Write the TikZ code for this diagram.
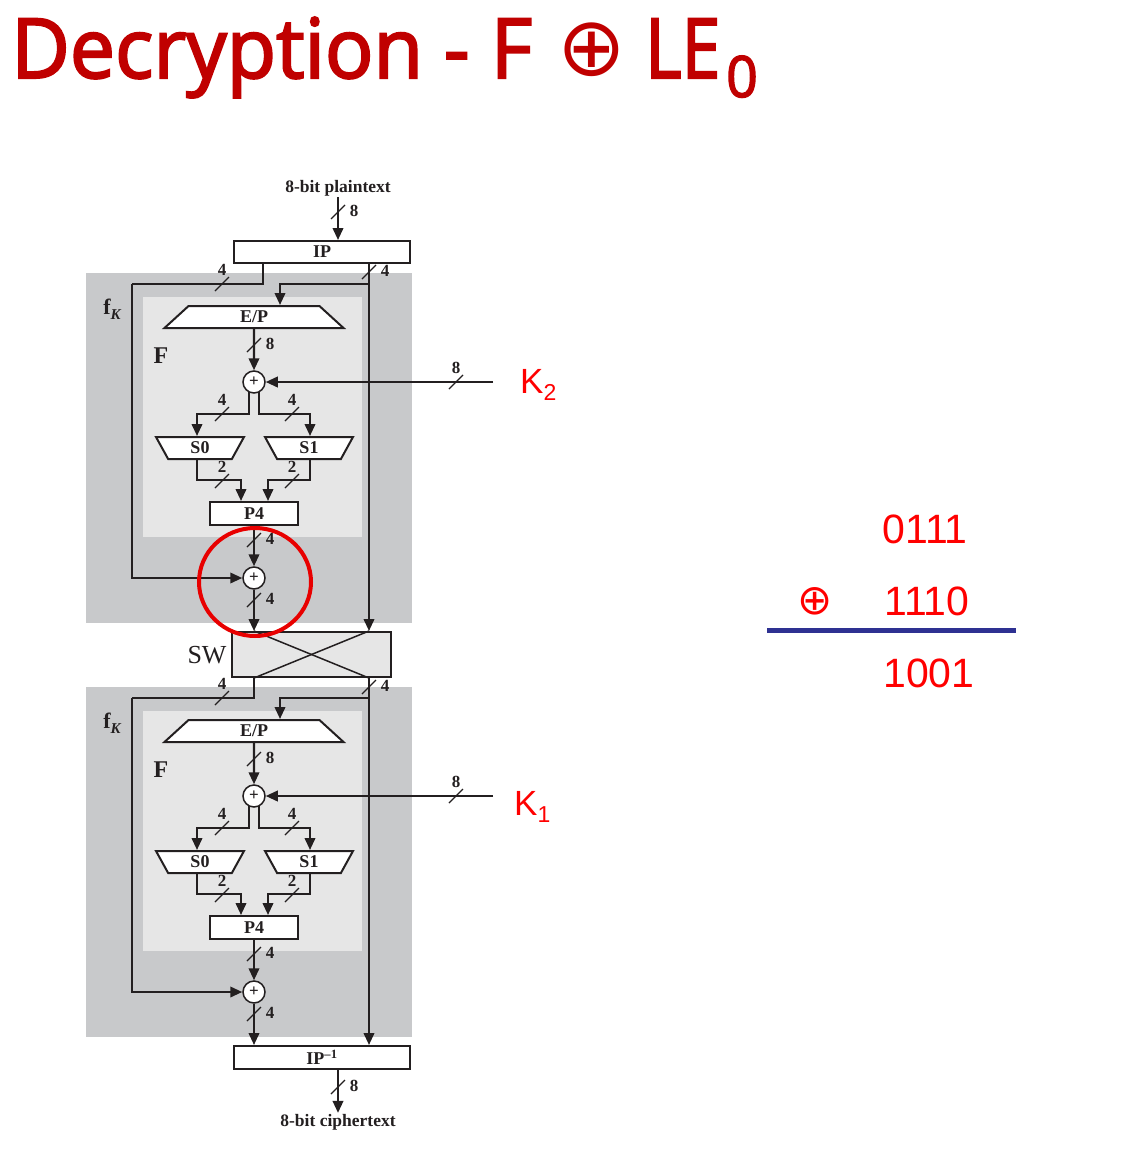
\documentclass[tikz,border=0pt]{standalone}
\usepackage{fontspec}
\setmainfont{Liberation Serif}
\newfontfamily\titlefont[FakeBold=2.5, FakeStretch=0.97]{Open Sans}
\newfontfamily\symfont{DejaVu Sans}
\newfontfamily\arialfont{Liberation Sans}
\usetikzlibrary{arrows.meta,calc,shapes.geometric}

\definecolor{titlered}{RGB}{192,0,0}
\definecolor{keyred}{RGB}{255,0,0}
\definecolor{ringred}{RGB}{232,0,0}
\definecolor{outerg}{RGB}{200,201,203}
\definecolor{innerg}{RGB}{230,230,230}
\definecolor{ink}{RGB}{35,31,32}
\definecolor{navy}{RGB}{46,49,146}

\tikzset{
  wire/.style={draw=ink, line width=2.2pt},
  arr/.style={wire, -{Triangle[length=12pt,width=10.5pt]}},
  buscut/.style={draw=ink, line width=1.2pt},
  num/.style={font=\fontsize{17}{17}\selectfont\bfseries, text=ink, inner sep=0pt},
  boxlbl/.style={font=\fontsize{18}{18}\selectfont\bfseries, text=ink, inner sep=0pt},
  blockbox/.style={draw=ink, line width=2pt, fill=white, inner sep=0pt},
  epbox/.style={blockbox, boxlbl, trapezium, trapezium left angle=26.565, trapezium right angle=26.565,
     trapezium stretches body, minimum width=179pt, minimum height=22pt},
  sbox/.style={blockbox, boxlbl, trapezium, shape border rotate=180, trapezium left angle=45, trapezium right angle=45,
     trapezium stretches body, minimum width=88pt, minimum height=22pt},
  xorop/.style={circle, draw=ink, line width=1.5pt, fill=white, minimum size=22pt, inner sep=0pt,
     font=\fontsize{17}{17}\selectfont\bfseries, text=ink},
  plainlbl/.style={font=\fontsize{17.5}{17.5}\selectfont\bfseries, text=ink, inner sep=1pt},
  fklbl/.style={font=\fontsize{22}{22}\selectfont\bfseries, text=ink, inner sep=0pt},
  flbl/.style={font=\fontsize{24}{24}\selectfont\bfseries, text=ink, inner sep=0pt},
  keylbl/.style={font=\arialfont\fontsize{35}{35}\selectfont, text=keyred, inner sep=0pt, anchor=base west},
  calc/.style={font=\arialfont\fontsize{41}{41}\selectfont, text=keyred, inner sep=0pt, anchor=base},
  titletxt/.style={font=\titlefont\fontsize{83}{83}\selectfont, text=titlered, inner sep=0pt, anchor=base west},
  pics/busv/.style={code={\draw[buscut] (-7,7) -- (7,-7); \node[num] (-n) at (16,-1) {#1};}},
  pics/bush/.style={code={\draw[buscut] (-7,7) -- (7,-7); \node[num] (-n) at (0,-14) {#1};}},
}

\newcommand\fkround[3]{%
\begin{scope}[shift={(0,#1)}]
  \fill[outerg] (86,273) rectangle (412,623);
  \fill[innerg] (143,297) rectangle (362,537);
  \node[fklbl] (fk#2) at (112,309) {f\raisebox{-5pt}{\fontsize{15}{15}\selectfont\itshape K}};
  \node[flbl] (F#2) at (161,356) {F};
  \node[epbox] (ep#2) at (254,317) {E/P};
  \node[xorop] (xa#2) at (254,382) {+};
  \node[sbox] (sa#2) at (200,448) {S0};
  \node[sbox] (sb#2) at (309,448) {S1};
  \node[blockbox, boxlbl, minimum width=88pt, minimum height=23pt] (p4#2) at (254,513.5) {P4};
  \node[xorop] (xb#2) at (254,578) {+};
  \coordinate (lb#2) at (132,284);
  \coordinate (rj#2) at (369,284);
  \coordinate (ca#2) at (197,414);
  \coordinate (cb#2) at (310,414);
  \coordinate (da#2) at (241,480);
  \coordinate (db#2) at (268,480);
  \coordinate (kin#2) at (493,382);
  \draw[arr] (rj#2) -| ([xshift=26pt]ep#2.north);
  \draw[arr] (ep#2.south) -- (xa#2.north);
  \pic (ba#2) at (254,345) {busv=8};
  \draw[arr] (kin#2) -- (xa#2.east);
  \pic (bk#2) at (456,382) {bush=8};
  \draw[arr] (xa#2.243) |- (ca#2) -- (ca#2 |- sa#2.north);
  \draw[arr] (xa#2.297) |- (cb#2) -- (cb#2 |- sb#2.north);
  \pic (bb#2) at (222,414) {bush=4};
  \pic (bc#2) at (292,414) {bush=4};
  \draw[arr] (ca#2 |- sa#2.south) |- (da#2) -- (da#2 |- p4#2.north);
  \draw[arr] (cb#2 |- sb#2.south) |- (db#2) -- (db#2 |- p4#2.north);
  \pic (bd#2) at (222,481) {bush=2};
  \pic (be#2) at (292,481) {bush=2};
  \draw[arr] (p4#2.south) -- (xb#2.north);
  \pic (bf#2) at (254,540) {busv=4};
  \draw[arr] (lb#2) |- (xb#2.west);
\end{scope}}

\begin{document}
\begin{tikzpicture}[x=1pt, y=-1pt]
  \useasboundingbox[fill=white] (0,0) rectangle (1121,1162);

  % title
  \node[titletxt] (t1) at (11,78) {Decryption - F};
  \node[font=\symfont\fontsize{82}{82}\selectfont, text=titlered, inner sep=0pt] (t2) at (592,50) {⊕};
  \node[titletxt] (t3) at (645,78) {\scalebox{0.87}[1]{LE}};
  \node[titletxt, font=\titlefont\fontsize{57}{57}\selectfont] (t4) at (726,97) {0};

  % input
  \node[plainlbl] (pt) at (338,188) {8-bit plaintext};
  \node[blockbox, boxlbl, minimum width=176pt, minimum height=22pt] (ip) at (322,252) {IP};
  \draw[arr] (pt.south) -- (ip.north -| pt);
  \pic (bin) at (338,212) {busv=8};

  % round 1
  \fkround{0}{1}{}
  \node[keylbl] (k2) at (520,393) {K\raisebox{-7pt}{\fontsize{23}{23}\selectfont 2}};

  % switch
  \node[draw=ink, line width=2pt, fill=innerg, minimum width=159pt, minimum height=45pt, inner sep=0pt] (sw) at (311.5,654.5) {};
  \draw[ink, line width=1.5pt] ([xshift=-57.5pt]sw.north) -- ([xshift=57.5pt]sw.south);
  \draw[ink, line width=1.5pt] ([xshift=57.5pt]sw.north) -- ([xshift=-57.5pt]sw.south);
  \node[font=\fontsize{26}{26}\selectfont, text=ink, inner sep=0pt] (swl) at (207,655) {SW};

  \draw[wire] ([xshift=-59pt]ip.south) |- (lb1);
  \pic (bl1) at (222,284) {bush=4};
  \draw[arr] ([xshift=47pt]ip.south) -- ([xshift=57.5pt]sw.north);
  \pic (br1) at (369,272) {busv=4};
  \draw[arr] (xb1.south) -- (sw.north -| xb1);
  \pic (bo1) at (254,600) {busv=4};

  % round 2
  \fkround{414}{2}{}
  \node[keylbl] (k1) at (514,815) {K\raisebox{-7pt}{\fontsize{23}{23}\selectfont 1}};

  \node[blockbox, boxlbl, minimum width=176pt, minimum height=23pt] (ipi) at (322,1057.5) {IP\textsuperscript{--1}};
  \draw[wire] (sw.south -| xb1) |- (lb2);
  \pic (bl2) at (222,698) {bush=4};
  \draw[arr] ([xshift=57.5pt]sw.south) -- ([xshift=47pt]ipi.north);
  \pic (br2) at (369,687) {busv=4};
  \draw[arr] (xb2.south) -- (ipi.north -| xb2);
  \pic (bo2) at (254,1014) {busv=4};

  \node[plainlbl] (ct) at (338,1122) {8-bit ciphertext};
  \draw[arr] (ipi.south -| ct) -- (ct.north);
  \pic (bout) at (338,1087) {busv=8};

  % highlight ring
  \node[draw=ringred, line width=4pt, ellipse, minimum width=112pt, minimum height=108pt, inner sep=0pt] (ring) at (255,582) {};

  % xor calculation
  \node[calc] (c1) at (925,543) {0111};
  \node[font=\symfont\fontsize{42}{42}\selectfont, text=keyred, inner sep=0pt] (cx) at (815,601) {⊕};
  \node[calc] (c2) at (927,615) {1110};
  \coordinate (ruleL) at (767,630);
  \coordinate (ruleR) at (1016,630);
  \draw[navy, line width=5pt] (ruleL) -- (ruleR);
  \node[calc] (c3) at (929,687) {1001};
\end{tikzpicture}
\end{document}
